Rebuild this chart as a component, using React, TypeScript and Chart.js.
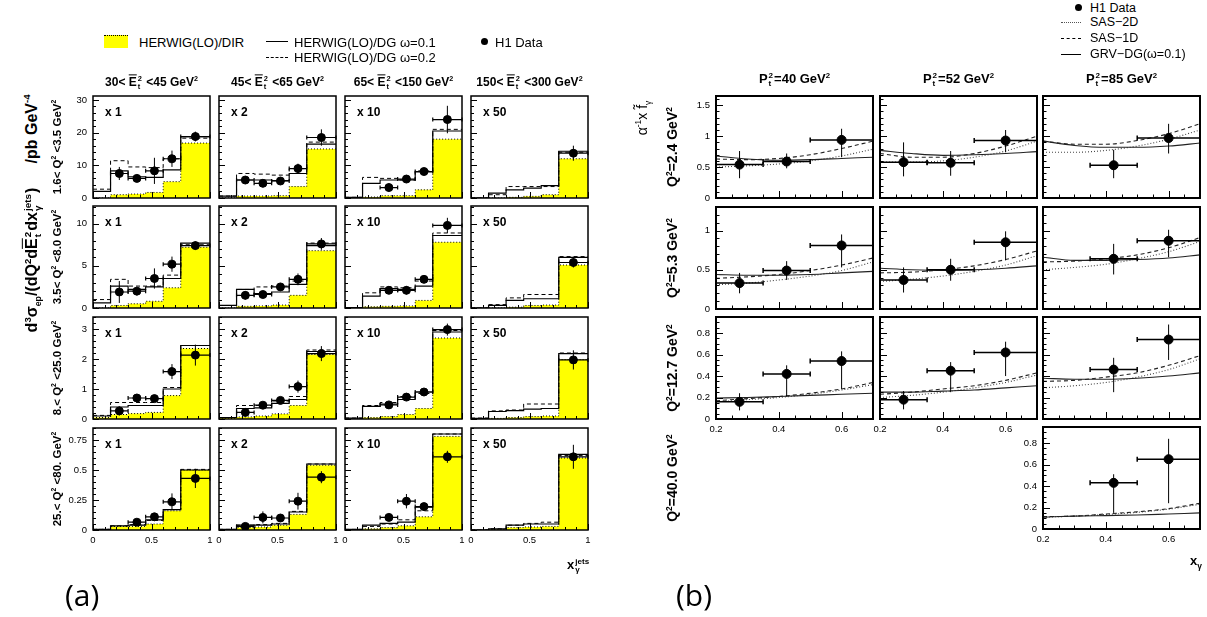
import React, { useEffect, useRef } from "react";
import { Chart, registerables } from "chart.js";

Chart.register(...registerables);

// ======================= DATA : panel (a) =======================
const A_BIN_EDGES = [0, 0.15, 0.3, 0.45, 0.6, 0.75, 1.0];
const A_POINT_X = [0.225, 0.375, 0.525, 0.675, 0.875];
const A_X_TICKS = [0, 0.5, 1];
const A_X_MINOR = 0.1;
const A_Y_TICKS = [
  [0, 10, 20, 30],
  [0, 5, 10],
  [0, 1, 2, 3],
  [0, 0.25, 0.5, 0.75],
];
const A_Y_MINOR = [2, 1, 0.2, 0.05];
const A_Y_MAX = [31.2, 12.1, 3.4, 0.85];
const A_SCALE_LABELS = ["x 1", "x 2", "x 10", "x 50"];

// HERWIG(LO)/DIR (yellow), per row, per column (6 bins)
const A_DIR_R1 = [
  [0, 1.0, 1.2, 1.7, 5.0, 16.8],
  [0, 0.6, 0.6, 0.7, 3.5, 15.0],
  [0, 0.3, 0.7, 0.7, 2.5, 18.0],
  [0, 0, 0.2, 0.5, 1.0, 12.0],
];
const A_DIR_R2 = [
  [0, 0.3, 0.5, 0.8, 2.4, 7.2],
  [0, 0.2, 0.25, 0.35, 1.5, 6.8],
  [0, 0.15, 0.2, 0.25, 0.9, 7.8],
  [0, 0, 0.1, 0.3, 0.35, 5.1],
];
const A_DIR_R3 = [
  [0.05, 0.15, 0.18, 0.22, 0.78, 2.35],
  [0.03, 0.07, 0.1, 0.17, 0.45, 2.15],
  [0, 0.05, 0.08, 0.15, 0.35, 2.7],
  [0, 0.02, 0.05, 0.08, 0.1, 1.98],
];
const A_DIR_R4 = [
  [0.005, 0.03, 0.03, 0.05, 0.16, 0.5],
  [0, 0.02, 0.025, 0.04, 0.13, 0.54],
  [0, 0.01, 0.02, 0.035, 0.11, 0.78],
  [0, 0.005, 0.02, 0.025, 0.03, 0.6],
];

// HERWIG(LO)/DG omega=0.1 (solid)
const A_DG1_R1 = [
  [2.0, 8.3, 6.5, 6.3, 8.6, 18.8],
  [0.6, 5.5, 5.5, 5.3, 7.5, 16.5],
  [0.2, 4.5, 5.5, 5.5, 8.0, 20.5],
  [0, 1.5, 2.5, 3.0, 3.8, 14.3],
];
const A_DG1_R2 = [
  [0.6, 2.6, 2.2, 2.5, 3.5, 7.7],
  [0.3, 2.2, 1.7, 1.9, 2.8, 7.4],
  [0.05, 1.4, 2.3, 2.2, 2.6, 8.6],
  [0, 0.3, 0.9, 1.1, 1.1, 6.0],
];
const A_DG1_R3 = [
  [0.1, 0.4, 0.45, 0.45, 1.0, 2.45],
  [0.05, 0.35, 0.37, 0.52, 0.65, 2.25],
  [0.03, 0.42, 0.5, 0.65, 0.9, 2.9],
  [0.02, 0.25, 0.28, 0.33, 0.35, 2.18],
];
const A_DG1_R4 = [
  [0.005, 0.035, 0.04, 0.085, 0.17, 0.5],
  [0.005, 0.04, 0.04, 0.05, 0.15, 0.55],
  [0.005, 0.04, 0.055, 0.065, 0.19, 0.8],
  [0, 0.01, 0.04, 0.05, 0.05, 0.63],
];

// HERWIG(LO)/DG omega=0.2 (dashed)
const A_DG2_R1 = [
  [2.7, 11.4, 9.5, 9.3, 12.0, 18.3],
  [0.6, 7.5, 7.3, 7.0, 9.0, 17.1],
  [0.2, 6.3, 6.0, 5.5, 8.3, 21.0],
  [0, 1.0, 3.5, 3.5, 3.5, 14.0],
];
const A_DG2_R2 = [
  [1.0, 3.4, 2.6, 2.6, 3.9, 7.5],
  [0.3, 2.2, 2.5, 2.6, 3.2, 7.7],
  [0.05, 1.8, 2.5, 2.4, 3.2, 8.9],
  [0, 0.4, 1.2, 1.6, 1.6, 6.1],
];
const A_DG2_R3 = [
  [0.12, 0.55, 0.55, 0.55, 1.05, 2.45],
  [0.05, 0.45, 0.45, 0.6, 0.75, 2.3],
  [0.03, 0.45, 0.55, 0.75, 0.85, 2.95],
  [0.03, 0.27, 0.3, 0.5, 0.5, 2.2],
];
const A_DG2_R4 = [
  [0.005, 0.035, 0.045, 0.08, 0.17, 0.505],
  [0.005, 0.04, 0.045, 0.055, 0.155, 0.55],
  [0.005, 0.03, 0.05, 0.085, 0.16, 0.8],
  [0, 0.01, 0.04, 0.055, 0.065, 0.62],
];

// H1 data (null = no point) and symmetric errors
const A_DATA_R1 = [
  [7.5, 6.0, 8.3, 12.0, 18.8],
  [5.5, 4.5, 5.2, 9.0, 18.5],
  [null, 3.2, 5.8, 8.1, 24.0],
  [null, null, null, null, 13.7],
];
const A_ERR_R1 = [
  [2.0, 1.0, 4.0, 2.5, 1.5],
  [1.2, 1.2, 1.0, 1.5, 2.5],
  [0, 1.3, 1.0, 1.0, 4.2],
  [0, 0, 0, 0, 2.3],
];
const A_DATA_R2 = [
  [1.9, 2.0, 3.5, 5.2, 7.4],
  [1.5, 1.6, 2.5, 3.4, 7.6],
  [null, 2.1, 2.1, 3.4, 9.8],
  [null, null, null, null, 5.4],
];
const A_ERR_R2 = [
  [1.3, 0.5, 1.2, 0.9, 0.5],
  [0.5, 0.3, 0.4, 0.7, 0.7],
  [0, 0.4, 0.5, 0.4, 0.9],
  [0, 0, 0, 0, 0.6],
];
const A_DATA_R3 = [
  [0.27, 0.7, 0.68, 1.58, 2.13],
  [0.22, 0.46, 0.62, 1.08, 2.18],
  [null, 0.47, 0.73, 0.9, 2.98],
  [null, null, null, null, 1.97],
];
const A_ERR_R3 = [
  [0.15, 0.12, 0.1, 0.25, 0.35],
  [0.05, 0.05, 0.1, 0.2, 0.25],
  [0, 0.05, 0.12, 0.07, 0.2],
  [0, 0, 0, 0, 0.32],
];
const A_DATA_R4 = [
  [null, 0.065, 0.11, 0.235, 0.43],
  [0.03, 0.105, 0.1, 0.24, 0.44],
  [null, 0.105, 0.24, 0.195, 0.61],
  [null, null, null, null, 0.61],
];
const A_ERR_R4 = [
  [0, 0.015, 0.015, 0.07, 0.08],
  [0.02, 0.05, 0.02, 0.07, 0.05],
  [0, 0.03, 0.06, 0.03, 0.05],
  [0, 0, 0, 0, 0.1],
];

const A_DIR = [A_DIR_R1, A_DIR_R2, A_DIR_R3, A_DIR_R4];
const A_DG1 = [A_DG1_R1, A_DG1_R2, A_DG1_R3, A_DG1_R4];
const A_DG2 = [A_DG2_R1, A_DG2_R2, A_DG2_R3, A_DG2_R4];
const A_DATA = [A_DATA_R1, A_DATA_R2, A_DATA_R3, A_DATA_R4];
const A_ERR = [A_ERR_R1, A_ERR_R2, A_ERR_R3, A_ERR_R4];

// ======================= DATA : panel (b) =======================
const B_CURVE_X = [0.2, 0.3, 0.4, 0.5, 0.6, 0.7];
const B_POINT_X = [0.275, 0.425, 0.6];
const B_POINT_XLO = [0.2, 0.35, 0.5];
const B_POINT_XHI = [0.35, 0.5, 0.7];
const B_X_TICKS = [0.2, 0.4, 0.6];
const B_X_MINOR = 0.05;
const B_Y_TICKS = [
  [0, 0.5, 1, 1.5],
  [0, 0.5, 1],
  [0, 0.2, 0.4, 0.6, 0.8],
  [0, 0.2, 0.4, 0.6, 0.8],
];
const B_Y_MINOR = [0.1, 0.1, 0.05, 0.05];
const B_Y_MAX = [1.65, 1.3, 0.95, 0.95];
const B_PANELS = ["r1c1", "r1c2", "r1c3", "r2c1", "r2c2", "r2c3", "r3c1", "r3c2", "r3c3", "r4c3"];

// GRV-DG(omega=0.1) solid
const B_GRV = [
  [0.68, 0.63, 0.61, 0.62, 0.64, 0.66],
  [0.77, 0.72, 0.69, 0.7, 0.72, 0.75],
  [0.92, 0.85, 0.82, 0.82, 0.84, 0.89],
  [0.44, 0.43, 0.43, 0.44, 0.46, 0.48],
  [0.52, 0.5, 0.49, 0.5, 0.52, 0.55],
  [0.66, 0.62, 0.62, 0.63, 0.65, 0.69],
  [0.195, 0.2, 0.21, 0.22, 0.23, 0.24],
  [0.25, 0.25, 0.26, 0.27, 0.29, 0.31],
  [0.38, 0.37, 0.37, 0.38, 0.4, 0.43],
  [0.11, 0.12, 0.125, 0.13, 0.14, 0.15],
];
// SAS-1D dashed
const B_SAS1D = [
  [0.63, 0.62, 0.64, 0.7, 0.8, 0.92],
  [0.72, 0.66, 0.66, 0.72, 0.84, 1.0],
  [0.92, 0.87, 0.87, 0.93, 1.04, 1.2],
  [0.39, 0.41, 0.44, 0.49, 0.56, 0.65],
  [0.46, 0.47, 0.5, 0.55, 0.63, 0.74],
  [0.6, 0.61, 0.64, 0.69, 0.78, 0.91],
  [0.17, 0.19, 0.21, 0.24, 0.28, 0.34],
  [0.23, 0.25, 0.28, 0.31, 0.36, 0.43],
  [0.35, 0.36, 0.39, 0.43, 0.5, 0.59],
  [0.115, 0.12, 0.14, 0.16, 0.19, 0.24],
];
// SAS-2D dotted
const B_SAS2D = [
  [0.5, 0.52, 0.55, 0.6, 0.68, 0.79],
  [0.58, 0.58, 0.6, 0.66, 0.76, 0.92],
  [0.74, 0.74, 0.77, 0.84, 0.95, 1.1],
  [0.31, 0.33, 0.37, 0.42, 0.49, 0.6],
  [0.35, 0.38, 0.42, 0.48, 0.56, 0.68],
  [0.5, 0.53, 0.57, 0.64, 0.73, 0.86],
  [0.16, 0.18, 0.2, 0.23, 0.27, 0.32],
  [0.2, 0.22, 0.25, 0.29, 0.34, 0.41],
  [0.29, 0.31, 0.34, 0.39, 0.46, 0.56],
  [0.11, 0.12, 0.135, 0.155, 0.185, 0.23],
];
// H1 data (value, lower end, upper end of error bar)
const B_DATA = [
  [0.54, 0.59, 0.94],
  [0.58, 0.57, 0.93],
  [null, 0.53, 0.97],
  [0.33, 0.49, 0.81],
  [0.37, 0.5, 0.85],
  [null, 0.64, 0.87],
  [0.16, 0.42, 0.54],
  [0.18, 0.45, 0.62],
  [null, 0.46, 0.74],
  [null, 0.43, 0.65],
];
const B_DATA_LO = [
  [0.32, 0.48, 0.66],
  [0.35, 0.36, 0.74],
  [0, 0.32, 0.72],
  [0.2, 0.37, 0.53],
  [0.21, 0.36, 0.62],
  [0, 0.44, 0.66],
  [0.08, 0.21, 0.28],
  [0.09, 0.25, 0.4],
  [0, 0.25, 0.55],
  [0, 0.15, 0.24],
];
const B_DATA_HI = [
  [0.76, 0.72, 1.12],
  [0.9, 0.76, 1.1],
  [0, 0.78, 1.2],
  [0.46, 0.61, 0.95],
  [0.53, 0.64, 0.99],
  [0, 0.83, 1.01],
  [0.24, 0.5, 0.63],
  [0.26, 0.53, 0.72],
  [0, 0.57, 0.88],
  [0, 0.51, 0.84],
];

// ======================= layout =======================
const A_COL_LEFT = [93, 219, 345, 471];
const A_COL_W = 117;
const A_ROW_TOP = [96, 206, 317, 428];
const A_ROW_H = 102;
const B_COL_LEFT = [716, 880, 1043];
const B_COL_W = 157;
const B_ROW_TOP = [96, 207, 317, 427];
const B_ROW_H = 102;
const PAD = 12;
const TICK_FONT = "'Liberation Sans', Arial, sans-serif";

// ======================= plugins =======================
const pawPlugin = {
  id: "paw",
  afterDatasetsDraw(chart: any, _args: any, opts: any) {
    const { ctx, chartArea: a, scales } = chart;
    const xs = scales.x;
    const ys = scales.y;
    ctx.save();
    ctx.strokeStyle = "#000";
    ctx.lineWidth = 1;
    ctx.beginPath();
    const nX = Math.round((xs.max - xs.min) / opts.xMinor);
    for (let k = 0; k <= nX; k++) {
      const v = xs.min + k * opts.xMinor;
      const isMajor = opts.xMajor.some((m: number) => Math.abs(m - v) < 1e-6);
      const p = Math.round(xs.getPixelForValue(v)) + 0.5;
      ctx.moveTo(p, a.bottom);
      ctx.lineTo(p, a.bottom - (isMajor ? opts.majorLen : opts.minorLen));
    }
    const nY = Math.floor((ys.max - ys.min) / opts.yMinor + 1e-6);
    for (let k = 0; k <= nY; k++) {
      const v = ys.min + k * opts.yMinor;
      const isMajor = opts.yMajor.some((m: number) => Math.abs(m - v) < 1e-6);
      const p = Math.round(ys.getPixelForValue(v)) + 0.5;
      ctx.moveTo(a.left, p);
      ctx.lineTo(a.left + (isMajor ? opts.majorLen : opts.minorLen), p);
    }
    ctx.stroke();
    ctx.lineWidth = opts.frame;
    ctx.strokeRect(a.left, a.top, a.right - a.left, a.bottom - a.top);
    ctx.restore();
  },
};

const errPlugin = {
  id: "errbars",
  afterDatasetsDraw(chart: any) {
    const { ctx, scales } = chart;
    const xs = scales.x;
    const ys = scales.y;
    ctx.save();
    ctx.strokeStyle = "#000";
    chart.data.datasets.forEach((ds: any) => {
      if (!ds.errBars) return;
      ds.data.forEach((pt: any, i: number) => {
        const px = xs.getPixelForValue(pt.x);
        const py = ys.getPixelForValue(pt.y);
        const x1 = xs.getPixelForValue(ds.xLo[i]);
        const x2 = xs.getPixelForValue(ds.xHi[i]);
        const y1 = ys.getPixelForValue(ds.yLo[i]);
        const y2 = ys.getPixelForValue(ds.yHi[i]);
        ctx.lineWidth = ds.errWidth;
        ctx.beginPath();
        ctx.moveTo(x1, py);
        ctx.lineTo(x2, py);
        ctx.moveTo(x1, py - ds.cap);
        ctx.lineTo(x1, py + ds.cap);
        ctx.moveTo(x2, py - ds.cap);
        ctx.lineTo(x2, py + ds.cap);
        ctx.stroke();
        ctx.lineWidth = 1;
        ctx.beginPath();
        ctx.moveTo(px, y1);
        ctx.lineTo(px, y2);
        ctx.stroke();
      });
    });
    ctx.restore();
  },
};

// ======================= chart builders =======================
function axisOptions(
  min: number,
  max: number,
  ticks: number[],
  show: boolean,
  isX: boolean,
  size: number,
  fontSize: number
) {
  return {
    type: "linear",
    min,
    max,
    bounds: "data",
    afterBuildTicks: (s: any) => {
      s.ticks = ticks.map((v) => ({ value: v }));
    },
    afterFit: (s: any) => {
      if (isX) s.height = size;
      else s.width = size;
      s.paddingLeft = 0;
      s.paddingRight = 0;
      s.paddingTop = 0;
      s.paddingBottom = 0;
    },
    grid: { display: false, drawTicks: false },
    border: { display: false },
    ticks: {
      display: show,
      color: "#000",
      padding: isX ? 5 : 6,
      maxRotation: 0,
      minRotation: 0,
      autoSkip: false,
      font: { family: TICK_FONT, size: fontSize },
      callback: (v: any) => String(v),
    },
  };
}

function histConfig(r: number, c: number, showY: boolean, showX: boolean, yw: number, xh: number) {
  const step = (vals: number[]) =>
    A_BIN_EDGES.map((e, i) => ({ x: e, y: vals[Math.min(i, vals.length - 1)] }));
  const pts: any[] = [];
  const lo: number[] = [];
  const hi: number[] = [];
  const xlo: number[] = [];
  const xhi: number[] = [];
  A_DATA[r][c].forEach((v, i) => {
    if (v === null) return;
    pts.push({ x: A_POINT_X[i], y: v });
    lo.push(v - A_ERR[r][c][i]);
    hi.push(v + A_ERR[r][c][i]);
    xlo.push(A_BIN_EDGES[i + 1]);
    xhi.push(A_BIN_EDGES[i + 2]);
  });
  return {
    type: "line",
    data: {
      datasets: [
        {
          label: "H1 Data",
          data: pts,
          showLine: false,
          pointRadius: 4,
          pointBackgroundColor: "#000",
          pointBorderColor: "#000",
          errBars: true,
          xLo: xlo,
          xHi: xhi,
          yLo: lo,
          yHi: hi,
          cap: 2,
          errWidth: 1.2,
        },
        {
          label: "HERWIG(LO)/DG w=0.1",
          data: step(A_DG1[r][c]),
          stepped: true,
          borderColor: "#000",
          borderWidth: 1.2,
          pointRadius: 0,
          fill: false,
        },
        {
          label: "HERWIG(LO)/DG w=0.2",
          data: step(A_DG2[r][c]),
          stepped: true,
          borderColor: "#000",
          borderWidth: 1,
          borderDash: [4, 3],
          pointRadius: 0,
          fill: false,
        },
        {
          label: "HERWIG(LO)/DIR",
          data: step(A_DIR[r][c]),
          stepped: true,
          borderColor: "#000",
          borderWidth: 1,
          borderDash: [1, 2],
          backgroundColor: "#ffff00",
          pointRadius: 0,
          fill: "origin",
        },
      ],
    },
    options: {
      responsive: false,
      animation: false,
      events: [],
      layout: { padding: PAD },
      plugins: {
        legend: { display: false },
        tooltip: { enabled: false },
        paw: {
          xMinor: A_X_MINOR,
          xMajor: A_X_TICKS,
          yMinor: A_Y_MINOR[r],
          yMajor: A_Y_TICKS[r],
          majorLen: 6,
          minorLen: 3,
          frame: 1.5,
        },
      },
      scales: {
        x: axisOptions(0, 1, A_X_TICKS, showX, true, xh, 9.5),
        y: axisOptions(0, A_Y_MAX[r], A_Y_TICKS[r], showY, false, yw, 9.5),
      },
    },
    plugins: [pawPlugin, errPlugin],
  };
}

function curveConfig(p: number, r: number, showY: boolean, showX: boolean, yw: number, xh: number) {
  const line = (vals: number[]) => B_CURVE_X.map((x, i) => ({ x, y: vals[i] }));
  const pts: any[] = [];
  const lo: number[] = [];
  const hi: number[] = [];
  const xlo: number[] = [];
  const xhi: number[] = [];
  B_DATA[p].forEach((v, i) => {
    if (v === null) return;
    pts.push({ x: B_POINT_X[i], y: v });
    lo.push(B_DATA_LO[p][i]);
    hi.push(B_DATA_HI[p][i]);
    xlo.push(B_POINT_XLO[i]);
    xhi.push(B_POINT_XHI[i]);
  });
  const common = { pointRadius: 0, fill: false, tension: 0.4, cubicInterpolationMode: "monotone" };
  return {
    type: "line",
    data: {
      datasets: [
        {
          label: "H1 Data",
          data: pts,
          showLine: false,
          pointRadius: 4.5,
          pointBackgroundColor: "#000",
          pointBorderColor: "#000",
          errBars: true,
          xLo: xlo,
          xHi: xhi,
          yLo: lo,
          yHi: hi,
          cap: 2.5,
          errWidth: 1.5,
        },
        { label: "GRV-DG", data: line(B_GRV[p]), borderColor: "#222", borderWidth: 1.1, ...common },
        { label: "SAS-1D", data: line(B_SAS1D[p]), borderColor: "#222", borderWidth: 1.1, borderDash: [4, 3], ...common },
        { label: "SAS-2D", data: line(B_SAS2D[p]), borderColor: "#444", borderWidth: 1.1, borderDash: [1, 2], ...common },
      ],
    },
    options: {
      responsive: false,
      animation: false,
      events: [],
      layout: { padding: PAD },
      plugins: {
        legend: { display: false },
        tooltip: { enabled: false },
        paw: {
          xMinor: B_X_MINOR,
          xMajor: B_X_TICKS,
          yMinor: B_Y_MINOR[r],
          yMajor: B_Y_TICKS[r],
          majorLen: 7,
          minorLen: 3.5,
          frame: 2,
        },
      },
      scales: {
        x: axisOptions(0.2, 0.7, B_X_TICKS, showX, true, xh, 9.5),
        y: axisOptions(0, B_Y_MAX[r], B_Y_TICKS[r], showY, false, yw, 9.5),
      },
    },
    plugins: [pawPlugin, errPlugin],
  };
}

function ChartBox({ left, top, width, height, config }: any) {
  const ref = useRef<HTMLCanvasElement>(null);
  useEffect(() => {
    const chart = new Chart(ref.current as HTMLCanvasElement, config());
    return () => chart.destroy();
  }, []);
  return (
    <canvas
      ref={ref}
      width={width}
      height={height}
      style={{ position: "absolute", left, top, width, height }}
    />
  );
}

// ======================= text helpers =======================
function SS({ sup, sub }: { sup: string; sub: string }) {
  return (
    <span
      style={{
        display: "inline-flex",
        flexDirection: "column",
        verticalAlign: "middle",
        fontSize: "0.62em",
        lineHeight: 1,
        marginLeft: 1,
        marginRight: 1,
      }}
    >
      <span>{sup}</span>
      <span>{sub}</span>
    </span>
  );
}

const Eb = () => <span style={{ textDecoration: "overline" }}>E</span>;

function Rot({ x, y, size, bold, children, family }: any) {
  return (
    <div
      style={{
        position: "absolute",
        left: x,
        top: y,
        transform: "translate(-50%, -50%) rotate(-90deg)",
        whiteSpace: "nowrap",
        fontSize: size,
        fontWeight: bold ? "bold" : "normal",
        fontFamily: family || TICK_FONT,
        lineHeight: 1,
      }}
    >
      {children}
    </div>
  );
}

function Txt({ x, y, size, bold, children, center, family }: any) {
  return (
    <div
      style={{
        position: "absolute",
        left: x,
        top: y,
        transform: center ? "translate(-50%, -50%)" : "translate(0, -50%)",
        whiteSpace: "nowrap",
        fontSize: size,
        fontWeight: bold ? "bold" : "normal",
        fontFamily: family || TICK_FONT,
        lineHeight: 1,
      }}
    >
      {children}
    </div>
  );
}

const A_COL_RANGES = [
  ["30", "45"],
  ["45", "65"],
  ["65", "150"],
  ["150", "300"],
];
const A_ROW_RANGES = [
  ["1.6", "3.5"],
  ["3.5", "8.0"],
  ["8.", "25.0"],
  ["25.", "80."],
];
const B_COL_PT = ["40", "52", "85"];
const B_ROW_Q = ["2.4", "5.3", "12.7", "40.0"];

export default function App() {
  const panels: any[] = [];
  // panel (a)
  for (let r = 0; r < 4; r++) {
    for (let c = 0; c < 4; c++) {
      const showY = c === 0;
      const showX = r === 3;
      const yw = showY ? 34 : 0;
      const xh = showX ? 20 : 0;
      panels.push(
        <ChartBox
          key={`a${r}${c}`}
          left={A_COL_LEFT[c] - yw - PAD}
          top={A_ROW_TOP[r] - PAD}
          width={A_COL_W + yw + 2 * PAD}
          height={A_ROW_H + xh + 2 * PAD}
          config={() => histConfig(r, c, showY, showX, yw, xh)}
        />
      );
    }
  }
  // panel (b)
  B_PANELS.forEach((name, p) => {
    const r = Number(name[1]) - 1;
    const c = Number(name[3]) - 1;
    const showY = c === 0 || r === 3;
    const showX = r === 3 || (r === 2 && c < 2);
    const yw = showY ? 34 : 0;
    const xh = showX ? 20 : 0;
    panels.push(
      <ChartBox
        key={`b${p}`}
        left={B_COL_LEFT[c] - yw - PAD}
        top={B_ROW_TOP[r] - PAD}
        width={B_COL_W + yw + 2 * PAD}
        height={B_ROW_H + xh + 2 * PAD}
        config={() => curveConfig(p, r, showY, showX, yw, xh)}
      />
    );
  });

  const LEG = "'Liberation Sans', Arial, sans-serif";
  const sup = { fontSize: "0.6em" };

  return (
    <div
      style={{
        position: "fixed",
        left: 0,
        top: 0,
        width: 1207,
        height: 617,
        background: "#fff",
        overflow: "hidden",
        color: "#000",
        fontFamily: TICK_FONT,
      }}
    >
      {panels}

      {/* ----- legend (a) ----- */}
      <div
        style={{
          position: "absolute",
          left: 104,
          top: 35,
          width: 24,
          height: 12,
          background: "#ffff00",
          borderTop: "1px dotted #000",
        }}
      />
      <Txt x={139} y={42} size={13} family={LEG}>HERWIG(LO)/DIR</Txt>
      <div style={{ position: "absolute", left: 266, top: 41, width: 22, borderTop: "1px solid #000" }} />
      <Txt x={294} y={42} size={13} family={LEG}>HERWIG(LO)/DG ω=0.1</Txt>
      <div style={{ position: "absolute", left: 266, top: 57, width: 22, borderTop: "1px dashed #000" }} />
      <Txt x={294} y={57} size={13} family={LEG}>HERWIG(LO)/DG ω=0.2</Txt>
      <div style={{ position: "absolute", left: 481, top: 38, width: 7, height: 7, borderRadius: 4, background: "#000" }} />
      <Txt x={495} y={42} size={13} family={LEG}>H1 Data</Txt>

      {/* ----- column headers (a) ----- */}
      {A_COL_RANGES.map((rg, c) => (
        <Txt key={`ah${c}`} x={A_COL_LEFT[c] + A_COL_W / 2} y={83} size={12} bold center>
          {rg[0]}&lt; <Eb />
          <SS sup="2" sub="t" /> &lt;{rg[1]} GeV<sup style={sup}>2</sup>
        </Txt>
      ))}

      {/* ----- row labels (a) ----- */}
      {A_ROW_RANGES.map((rg, r) => (
        <Rot key={`ar${r}`} x={57} y={A_ROW_TOP[r] + A_ROW_H / 2} size={11.5} bold>
          {rg[0]}&lt; Q<sup style={sup}>2</sup> &lt;{rg[1]} GeV<sup style={sup}>2</sup>
        </Rot>
      ))}

      {/* ----- scale factors (a) ----- */}
      {A_ROW_TOP.map((t, r) =>
        A_SCALE_LABELS.map((s, c) => (
          <Txt key={`as${r}${c}`} x={A_COL_LEFT[c] + 12} y={t + 16} size={12} bold>
            {s}
          </Txt>
        ))
      )}

      {/* ----- y title (a) ----- */}
      <Rot x={31} y={129} size={16} bold>
        /pb GeV<sup style={sup}>-4</sup>
      </Rot>
      <Rot x={33} y={260} size={16} bold>
        d<sup style={sup}>3</sup>σ<sub style={{ fontSize: "0.55em" }}>ep</sub>/(dQ
        <sup style={sup}>2</sup>d<Eb />
        <SS sup="2" sub="t" />
        dx
        <SS sup="jets" sub="γ" />)
      </Rot>

      {/* ----- x title (a) ----- */}
      <Txt x={567} y={566} size={13} bold>
        x<SS sup="jets" sub="γ" />
      </Txt>

      {/* ----- (a) (b) ----- */}
      <Txt x={65} y={595} size={30} family="'Open Sans', 'DejaVu Sans', sans-serif">(a)</Txt>
      <Txt x={676} y={595} size={30} family="'Open Sans', 'DejaVu Sans', sans-serif">(b)</Txt>

      {/* ----- legend (b) ----- */}
      <div style={{ position: "absolute", left: 1075, top: 4, width: 7, height: 7, borderRadius: 4, background: "#000" }} />
      <Txt x={1090} y={8} size={12.5} family={LEG}>H1 Data</Txt>
      <div style={{ position: "absolute", left: 1061, top: 22, width: 20, borderTop: "1px dotted #555" }} />
      <Txt x={1090} y={22} size={12.5} family={LEG}>SAS−2D</Txt>
      <div style={{ position: "absolute", left: 1061, top: 38, width: 20, borderTop: "1px dashed #000" }} />
      <Txt x={1090} y={38} size={12.5} family={LEG}>SAS−1D</Txt>
      <div style={{ position: "absolute", left: 1061, top: 54, width: 20, borderTop: "1px solid #000" }} />
      <Txt x={1090} y={54} size={12.5} family={LEG}>GRV−DG(ω=0.1)</Txt>

      {/* ----- column headers (b) ----- */}
      {B_COL_PT.map((v, c) => (
        <Txt key={`bh${c}`} x={B_COL_LEFT[c] + B_COL_W / 2} y={80} size={13} bold center>
          P<SS sup="2" sub="t" />={v} GeV<sup style={sup}>2</sup>
        </Txt>
      ))}

      {/* ----- row labels (b) ----- */}
      {B_ROW_Q.map((q, r) => (
        <Rot key={`br${r}`} x={672} y={B_ROW_TOP[r] + B_ROW_H / 2} size={14} bold>
          Q<sup style={sup}>2</sup>={q} GeV<sup style={sup}>2</sup>
        </Rot>
      ))}

      {/* ----- y title (b) ----- */}
      <Rot x={643} y={118} size={14}>
        α<sup style={sup}>-1</sup>x f̃<sub style={sup}>γ</sub>
      </Rot>

      {/* ----- x title (b) ----- */}
      <Txt x={1190} y={562} size={13} bold>
        x<sub style={{ fontSize: "0.65em" }}>γ</sub>
      </Txt>
    </div>
  );
}
